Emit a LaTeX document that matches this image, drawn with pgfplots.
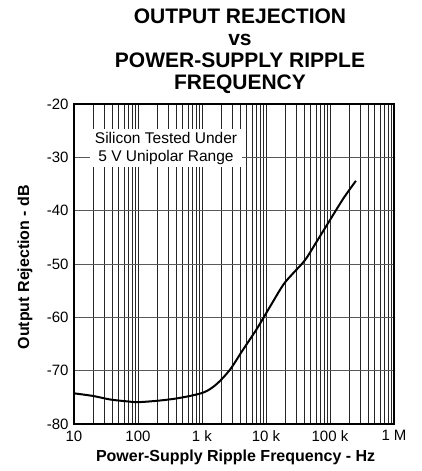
\documentclass[border=0pt]{standalone}
\usepackage{fontspec}
\setmainfont{Liberation Sans}
\usepackage{pgfplots}
\pgfplotsset{compat=1.18}
\begin{document}
\begin{tikzpicture}
\path[use as bounding box] (-74pt,-47pt) rectangle (348pt,424pt);
\begin{axis}[
  anchor=south west, at={(0pt,0pt)},
  scale only axis, width=320pt, height=320pt,
  xmode=log, xmin=10, xmax=1000000, ymin=-80, ymax=-20,
  xtick={10,100,1000,10000,100000,1000000},
  xticklabels={10,100,1 k,10 k,100 k,1 M},
  ytick={-80,-70,-60,-50,-40,-30,-20},
  yticklabels={-80,-70,-60,-50,-40,-30,-20},
  minor xtick={20,30,40,50,60,70,80,90,200,300,400,500,600,700,800,900,2000,3000,4000,5000,6000,7000,8000,9000,20000,30000,40000,50000,60000,70000,80000,90000,200000,300000,400000,500000,600000,700000,800000,900000},
  xmajorgrids, xminorgrids, ymajorgrids,
  x grid style={black!85, line width=0.55pt},
  y grid style={black!65, line width=0.85pt},
  major tick length=0pt, minor tick length=0pt,
  axis line style={line width=1.5pt, black},
  tick label style={font=\fontsize{15}{17}\selectfont},
  xticklabel style={yshift=-3pt},
  yticklabel style={xshift=-2pt},
  xlabel={Power-Supply Ripple Frequency - Hz},
  ylabel={Output Rejection - dB},
  label style={font=\fontsize{16}{18}\selectfont\bfseries},
  xlabel style={at={(rel axis cs:0.505,-0.105)}, anchor=center},
  ylabel style={at={(rel axis cs:-0.153,0.49)}, anchor=center},
  clip=true,
]
\addplot[black, line width=2pt, smooth, tension=0.5] coordinates {
(10,-74.25) (20,-74.75) (36.5,-75.4) (66.5,-75.75) (101,-75.9) (219,-75.6)
(453,-75.1) (1050,-74.1) (1700,-72.5) (2740,-69.8) (4300,-66.2) (7160,-62.2)
(11550,-58.0) (18600,-53.9) (26700,-51.7) (40800,-49.25) (61900,-45.8)
(100000,-41.75) (162000,-37.7) (254000,-34.4)
};
\node[fill=white, inner xsep=5pt, inner ysep=3pt, align=center,
  font=\fontsize{15.5}{18}\selectfont] at (rel axis cs:0.2875,0.8625)
  {Silicon Tested Under\\5 V Unipolar Range};
\end{axis}
\node[align=center, font=\fontsize{21}{22}\selectfont\bfseries] at (166pt,372.5pt)
  {OUTPUT REJECTION\\vs\\POWER-SUPPLY RIPPLE\\FREQUENCY};
\end{tikzpicture}
\end{document}
